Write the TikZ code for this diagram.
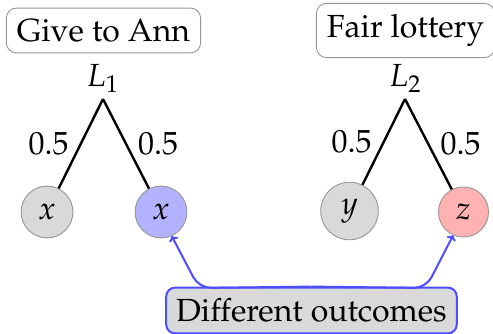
\documentclass[tikz,border=0pt]{standalone}
\usepackage[T1]{fontenc}
\usepackage{mathpazo}
\usetikzlibrary{arrows.meta}
\definecolor{circgray}{RGB}{217,217,217}
\definecolor{circblue}{RGB}{178,178,255}
\definecolor{circred}{RGB}{255,178,178}
\definecolor{arrblue}{RGB}{77,77,255}
\definecolor{bordgray}{RGB}{150,150,150}
\tikzset{
  bigfont/.style={font=\fontsize{32}{38}\selectfont},
  titlebox/.style={bigfont, draw=bordgray, line width=0.9pt, fill=white, rounded corners=10pt, inner xsep=10.5pt, inner ysep=11pt},
  outcome/.style={bigfont, circle, draw=bordgray, line width=0.9pt, inner sep=10pt},
  branch/.style={line width=2.4pt, black},
  prob/.style={bigfont, inner sep=0pt},
  notebox/.style={bigfont, draw=arrblue, line width=2pt, fill=circgray, rounded corners=9pt, inner xsep=10pt, inner ysep=11pt},
  arr/.style={draw=arrblue, line width=2pt, rounded corners=12pt, -{To[length=5pt,width=10pt]}}
}
\begin{document}
\begin{tikzpicture}[x=1pt,y=-1pt]
\useasboundingbox (0,0) rectangle (493,334);
% titles
\node[titlebox] (give) at (103.5,30.5) {Give to Ann};
\node[titlebox] (fair) at (405.5,30.5) {Fair lottery};
% lottery labels
\node[bigfont, anchor=base, inner sep=0pt] (l1) at (102.5,87) {$L_1$};
\node[bigfont, anchor=base, inner sep=0pt] (l2) at (405,87) {$L_2$};
\coordinate (a1) at (103,99);
\coordinate (a2) at (405,99);
% outcomes
\node[outcome, fill=circgray] (c1) at (47,212) {$x$};
\node[outcome, fill=circblue] (c2) at (161,212) {$x$};
\node[outcome, fill=circgray] (c3) at (349.5,211) {$y$};
\node[outcome, fill=circred] (c4) at (463.5,212) {$z$};
% branches
\draw[branch] (a1) -- node[prob, anchor=east, xshift=-11pt] {0.5} (c1);
\draw[branch] (a1) -- node[prob, anchor=west, xshift=11pt] {0.5} (c2);
\draw[branch] (a2) -- node[prob, anchor=east, xshift=-11pt] {0.5} (c3);
\draw[branch] (a2) -- node[prob, anchor=west, xshift=11pt] {0.5} (c4);
% note
\node[notebox] (dif) at (311.5,310.5) {Different outcomes};
\coordinate (b1) at (199,288);
\coordinate (b2) at (426,288);
\draw[arr] (dif.north) -- (b1) -- (c2.294);
\draw[arr] (dif.north) -- (b2) -- (c4.246);
\end{tikzpicture}
\end{document}
